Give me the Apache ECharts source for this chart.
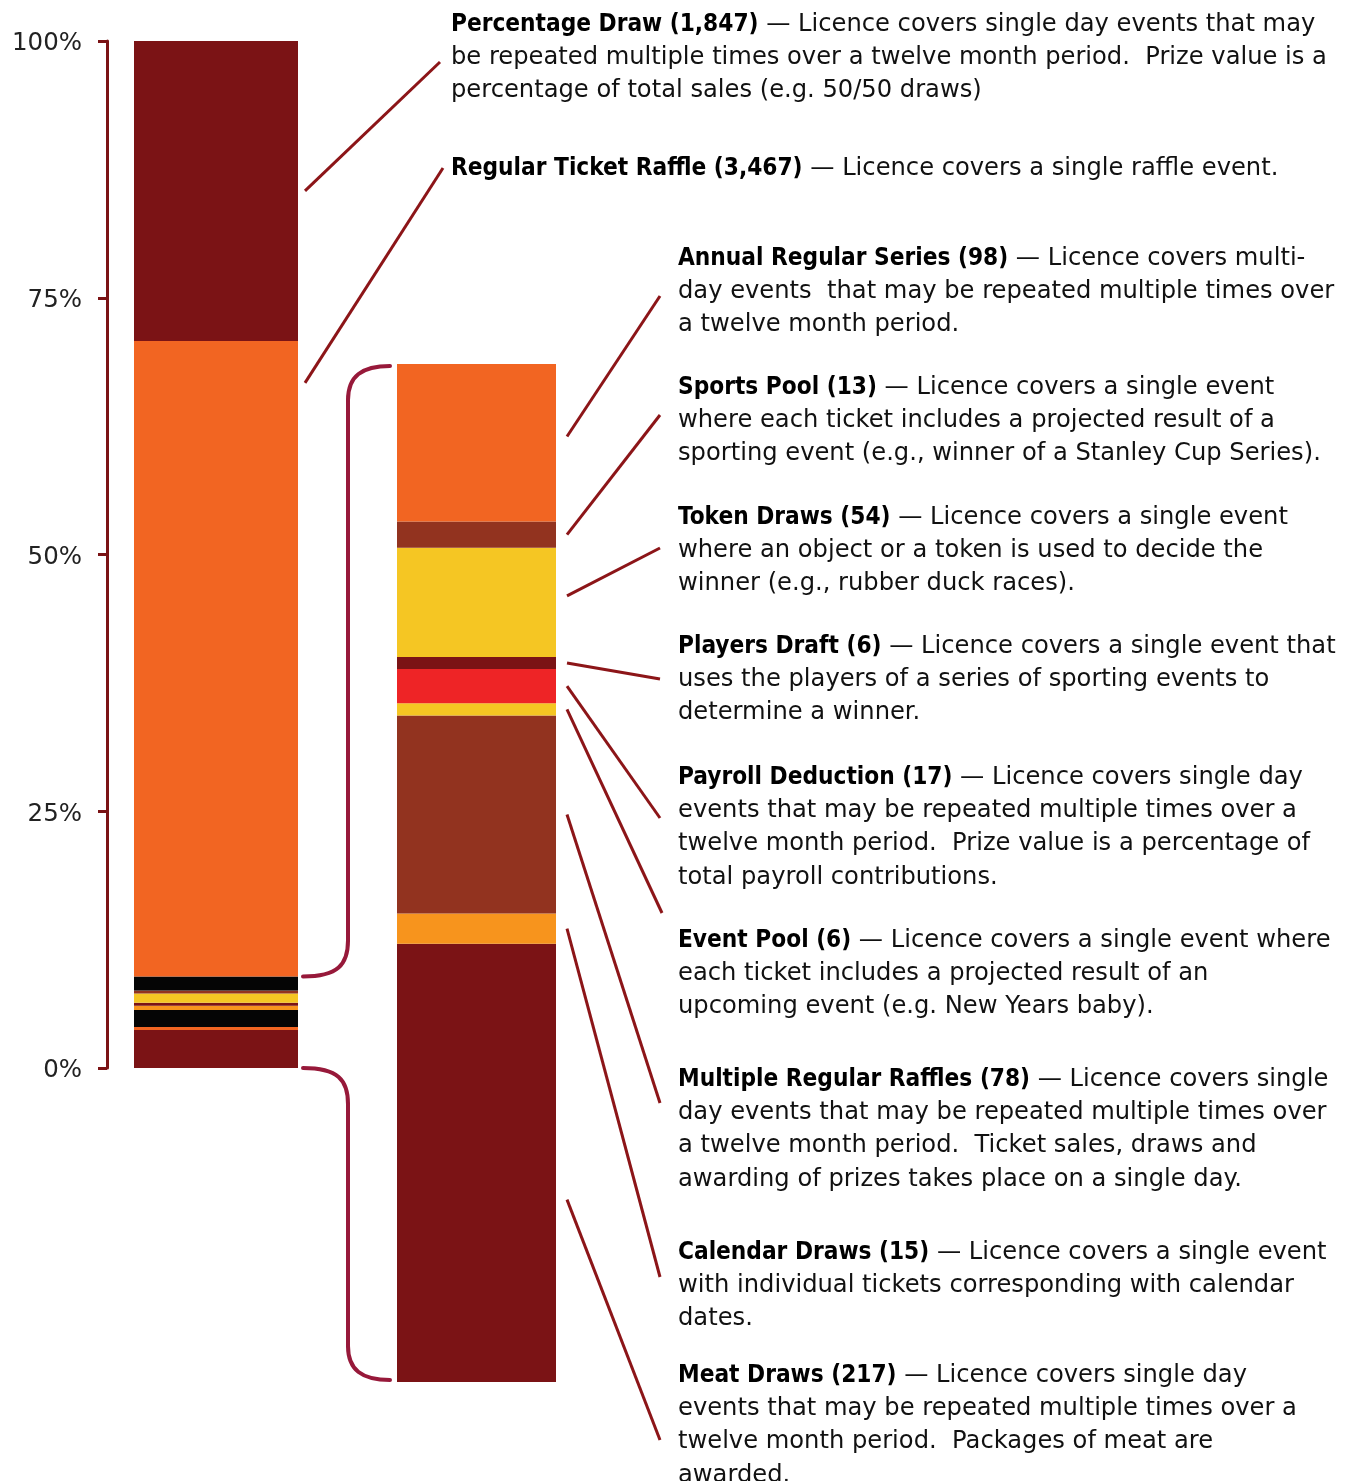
<!DOCTYPE html>
<html>
<head>
<meta charset="utf-8">
<script src="https://cdn.jsdelivr.net/npm/echarts@6/dist/echarts.min.js"></script>
<style>
  html, body { margin: 0; padding: 0; background: #fff; }
  #main { width: 1347px; height: 1481px; }
</style>
</head>
<body>
<div id="main"></div>
<script>
// left bar: share of all licences, bottom to top (percent)
const leftNames = ['Meat Draws', 'Calendar Draws', 'Multiple Regular Raffles', 'Event Pool', 'Players Draft',
  'Token Draws', 'Sports Pool', 'Annual Regular Series', 'Regular Ticket Raffle', 'Percentage Draw']
const leftValues = [3.7, 0.3, 1.65, 0.4, 0.3, 0.9, 0.3, 1.35, 61.9, 29.2]
const leftColors = ['#7b1315', '#f26522', '#050505', '#f7941d', '#7b1315', '#f5c623', '#92331f', '#050505', '#f26522', '#7b1315']

// right bar: the smaller licence types, bottom to top (counts)
const rightNames = ['Meat Draws', 'Calendar Draws', 'Multiple Regular Raffles', 'Event Pool', 'Payroll Deduction',
  'Players Draft', 'Token Draws', 'Sports Pool', 'Annual Regular Series']
const rightValues = [217, 15, 98, 6, 17, 6, 54, 13, 78]
const rightColors = ['#7b1315', '#f7941d', '#92331f', '#f5c623', '#ee2426', '#7b1315', '#f5c623', '#92331f', '#f26522']

const pctTicks = [0, 25, 50, 75, 100]

// annotation blocks: title, description lines, which bar segment the connector points at
const notes = [
  { title: 'Percentage Draw (1,847)', bar: 0, seg: 9, frac: 0.5, x: 451, y: 22, end: [440, 62],
    lines: ['Licence covers single day events that may', 'be repeated multiple times over a twelve month period.  Prize value is a', 'percentage of total sales (e.g. 50/50 draws)'] },
  { title: 'Regular Ticket Raffle (3,467)', bar: 0, seg: 8, frac: 0.934, x: 451, y: 166, end: [443, 168],
    lines: ['Licence covers a single raffle event.'] },
  { title: 'Annual Regular Series (98)', bar: 1, seg: 8, frac: 0.54, x: 678, y: 256, end: [660, 296],
    lines: ['Licence covers multi-', 'day events  that may be repeated multiple times over', 'a twelve month period.'] },
  { title: 'Sports Pool (13)', bar: 1, seg: 7, frac: 0.5, x: 678, y: 385, end: [660, 415],
    lines: ['Licence covers a single event', 'where each ticket includes a projected result of a', 'sporting event (e.g., winner of a Stanley Cup Series).'] },
  { title: 'Token Draws (54)', bar: 1, seg: 6, frac: 0.56, x: 678, y: 515, end: [660, 548],
    lines: ['Licence covers a single event', 'where an object or a token is used to decide the', 'winner (e.g., rubber duck races).'] },
  { title: 'Players Draft (6)', bar: 1, seg: 5, frac: 0.5, x: 678, y: 644, end: [660, 679],
    lines: ['Licence covers a single event that', 'uses the players of a series of sporting events to', 'determine a winner.'] },
  { title: 'Payroll Deduction (17)', bar: 1, seg: 4, frac: 0.5, x: 678, y: 775, end: [660, 818],
    lines: ['Licence covers single day', 'events that may be repeated multiple times over a', 'twelve month period.  Prize value is a percentage of', 'total payroll contributions.'] },
  { title: 'Event Pool (6)', bar: 1, seg: 3, frac: 0.5, x: 678, y: 938, end: [662, 913],
    lines: ['Licence covers a single event where', 'each ticket includes a projected result of an', 'upcoming event (e.g. New Years baby).'] },
  { title: 'Multiple Regular Raffles (78)', bar: 1, seg: 2, frac: 0.5, x: 678, y: 1077, end: [660, 1103],
    lines: ['Licence covers single', 'day events that may be repeated multiple times over', 'a twelve month period.  Ticket sales, draws and', 'awarding of prizes takes place on a single day.'] },
  { title: 'Calendar Draws (15)', bar: 1, seg: 1, frac: 0.5, x: 678, y: 1250, end: [660, 1277],
    lines: ['Licence covers a single event', 'with individual tickets corresponding with calendar', 'dates.'] },
  { title: 'Meat Draws (217)', bar: 1, seg: 0, frac: 0.416, x: 678, y: 1373, end: [660, 1440],
    lines: ['Licence covers single day', 'events that may be repeated multiple times over a', 'twelve month period.  Packages of meat are', 'awarded.'] }
]

const FONT = 'DejaVu Sans'
const FONT_B = 'DejaVu Sans Condensed'
const FS = 24.2
const LINE_H = 33.3
const BAR_W = [164, 159]

const chart = echarts.init(document.getElementById('main'))
const rightTotal = rightValues.reduce((a, b) => a + b, 0)

function barSeries(names, values, colors, idx) {
  return names.map((n, i) => ({
    name: n,
    type: 'bar',
    stack: 'bar' + idx,
    xAxisIndex: idx,
    yAxisIndex: idx,
    barWidth: BAR_W[idx],
    data: [values[i]],
    itemStyle: { color: colors[i] },
    silent: true
  }))
}

chart.setOption({
  animation: false,
  grid: [
    { left: 107, top: 41, width: 218, height: 1027 },
    { left: 397, top: 364, width: 159, height: 1018 }
  ],
  xAxis: [
    { type: 'category', gridIndex: 0, data: ['all'], show: false },
    { type: 'category', gridIndex: 1, data: ['small'], show: false }
  ],
  yAxis: [
    {
      type: 'value',
      gridIndex: 0,
      min: pctTicks[0],
      max: pctTicks[pctTicks.length - 1],
      interval: 25,
      axisLine: { show: true, lineStyle: { color: '#7b1315', width: 3 } },
      axisTick: { show: true, length: 9, lineStyle: { color: '#7b1315', width: 3 } },
      splitLine: { show: false },
      axisLabel: {
        formatter: v => '{p|' + v + '%}',
        margin: 25,
        rich: {
          p: { color: '#222', fontFamily: FONT, fontSize: 24.5, padding: [6, 0, 0, 0] }
        }
      }
    },
    { type: 'value', gridIndex: 1, min: 0, max: rightTotal, show: false }
  ],
  series: barSeries(leftNames, leftValues, leftColors, 0)
    .concat(barSeries(rightNames, rightValues, rightColors, 1))
})

// connectors, brackets and texts placed from the axes' own scales
const vals = [leftValues, rightValues]
const barRight = [216 + BAR_W[0] / 2 + 7, 397 + BAR_W[1] + 11]
function py(bar, v) {
  return chart.convertToPixel({ xAxisIndex: bar, yAxisIndex: bar }, [0, v])[1]
}

const graphic = []
notes.forEach(n => {
  const base = vals[n.bar].slice(0, n.seg).reduce((a, b) => a + b, 0)
  const y0 = py(n.bar, base + vals[n.bar][n.seg] * n.frac)
  graphic.push({
    type: 'line',
    shape: { x1: barRight[n.bar], y1: y0, x2: n.end[0], y2: n.end[1] },
    style: { stroke: '#8c1518', lineWidth: 3 },
    silent: true
  })
  const txt = '{b|' + n.title + '}{n| — ' + n.lines[0] + '}' +
    n.lines.slice(1).map(l => '\n{n|' + l + '}').join('')
  graphic.push({
    type: 'text',
    x: n.x,
    y: n.y - LINE_H / 2 + 2.5,
    silent: true,
    style: {
      text: txt,
      fill: '#111',
      font: FS + 'px "' + FONT + '"',
      verticalAlign: 'top',
      lineHeight: LINE_H,
      rich: {
        b: { fontFamily: FONT_B, fontSize: FS, fontWeight: 'bold', fill: '#000', lineHeight: LINE_H },
        n: { fontFamily: FONT, fontSize: FS, fill: '#111', lineHeight: LINE_H }
      }
    }
  })
})

// brackets joining the small group of the left bar to the right bar
const smallTop = py(0, leftValues.slice(0, 8).reduce((a, b) => a + b, 0))
const leftBottom = py(0, 0)
const rTop = py(1, rightTotal) + 2
const rBottom = py(1, 0) - 2
const bx0 = 303, bx = 348, bx1 = 390
const bstyle = { stroke: '#97193a', lineWidth: 4, fill: null, lineCap: 'round' }
function bracket(yL, yR, dir) {
  // dir = -1 going up from the left bar to the right bar top, +1 going down
  graphic.push({
    type: 'bezierCurve', silent: true, style: bstyle,
    shape: { x1: bx0, y1: yL, cpx1: bx - 10, cpy1: yL, cpx2: bx, cpy2: yL + dir * 12, x2: bx, y2: yL + dir * 36 }
  })
  graphic.push({
    type: 'line', silent: true, style: bstyle,
    shape: { x1: bx, y1: yL + dir * 36, x2: bx, y2: yR - dir * 34 }
  })
  graphic.push({
    type: 'bezierCurve', silent: true, style: bstyle,
    shape: { x1: bx, y1: yR - dir * 34, cpx1: bx, cpy1: yR - dir * 10, cpx2: bx + 14, cpy2: yR, x2: bx1, y2: yR }
  })
}
bracket(smallTop, rTop, -1)
bracket(leftBottom, rBottom, 1)

chart.setOption({ graphic: graphic })
</script>
</body>
</html>
